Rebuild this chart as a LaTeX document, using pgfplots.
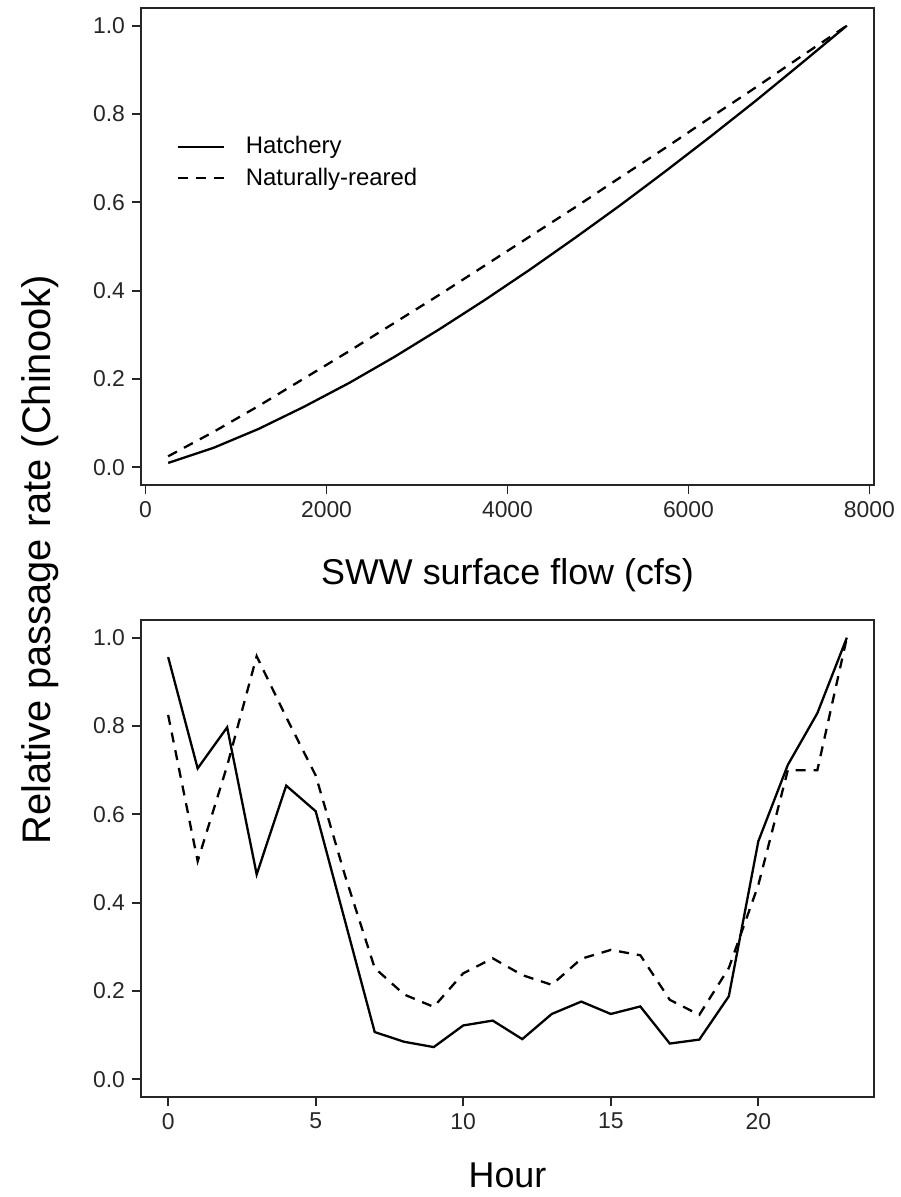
\documentclass[border=0pt]{standalone}
\usepackage{pgfplots}
\pgfplotsset{compat=1.18}
\usepackage{fontspec}
\setmainfont{Liberation Sans}

\pgfplotstableread{
x y
250 0.010
750 0.044
1250 0.087
1750 0.137
2250 0.191
2750 0.250
3250 0.313
3750 0.379
4250 0.448
4750 0.520
5250 0.594
5750 0.671
6250 0.750
6750 0.831
7250 0.915
7750 1.000
}\flowhatch

\pgfplotstableread{
x y
250 0.025
750 0.080
1250 0.139
1750 0.201
2250 0.263
2750 0.327
3250 0.391
3750 0.457
4250 0.523
4750 0.589
5250 0.657
5750 0.724
6250 0.793
6750 0.861
7250 0.931
7750 1.000
}\flownat

\pgfplotstableread{
x y
0 0.956
1 0.704
2 0.797
3 0.464
4 0.665
5 0.607
6 0.357
7 0.107
8 0.085
9 0.073
10 0.122
11 0.133
12 0.091
13 0.148
14 0.176
15 0.148
16 0.165
17 0.081
18 0.090
19 0.188
20 0.539
21 0.712
22 0.829
23 1.000
}\hourhatch

\pgfplotstableread{
x y
0 0.825
1 0.494
2 0.710
3 0.958
4 0.820
5 0.688
6 0.460
7 0.252
8 0.192
9 0.164
10 0.240
11 0.274
12 0.236
13 0.214
14 0.273
15 0.293
16 0.281
17 0.180
18 0.146
19 0.252
20 0.440
21 0.700
22 0.700
23 1.000
}\hournat

\begin{document}
\begin{tikzpicture}
\useasboundingbox (0,0) rectangle (450.5bp,598.5bp);
\pgfplotsset{
  every axis/.append style={
    scale only axis, width=366.5bp, height=238.5bp,
    axis line style={line width=0.9bp, black!85},
    tick align=outside, major tick length=4.5bp,
    every tick/.style={line width=0.9bp, black!85},
    xtick pos=lower, ytick pos=left,
    ymin=-0.04, ymax=1.04, ytick={0,0.2,0.4,0.6,0.8,1},
    yticklabel style={/pgf/number format/fixed, /pgf/number format/precision=1, /pgf/number format/fixed zerofill},
    /pgf/number format/assume math mode=true,
    tick label style={font=\fontsize{11.5}{13}\selectfont, black!85},
    label style={font=\fontsize{18}{21}\selectfont},
    scaled ticks=false,
  },
  hatch/.style={black, line width=1.15bp},
  nat/.style={black, line width=1.15bp, dash pattern=on 5bp off 4bp},
}
\begin{axis}[
  at={(70.5bp,356bp)}, anchor=south west,
  xmin=-50, xmax=8050, xtick={0,2000,4000,6000,8000},
  xticklabel style={/pgf/number format/set thousands separator={}},
  xlabel={SWW surface flow (cfs)},
  xlabel style={at={(axis description cs:0.5,0)}, anchor=base, yshift=-50bp},
  legend style={draw=none, fill=none, at={(axis description cs:0.04,0.748)}, anchor=north west,
    font=\fontsize{12}{14}\selectfont, row sep=1.5bp},
  legend cell align=left,
  legend image code/.code={\draw[#1] (0bp,0bp) -- (23bp,0bp); \path[draw=none] (0bp,0bp) -- (32bp,0bp);},
]
\addplot[hatch] table {\flowhatch};
\addlegendentry{Hatchery}
\addplot[nat] table {\flownat};
\addlegendentry{Naturally-reared}
\end{axis}
\begin{axis}[
  at={(70.5bp,50bp)}, anchor=south west,
  xmin=-0.92, xmax=23.92, xtick={0,5,10,15,20},
  xlabel={Hour},
  xlabel style={at={(axis description cs:0.5,0)}, anchor=base, yshift=-45bp},
]
\addplot[hatch] table {\hourhatch};
\addplot[nat] table {\hournat};
\end{axis}
\node[rotate=90, font=\fontsize{20}{24}\selectfont] at (20bp,318.5bp) {Relative passage rate (Chinook)};
\end{tikzpicture}
\end{document}
